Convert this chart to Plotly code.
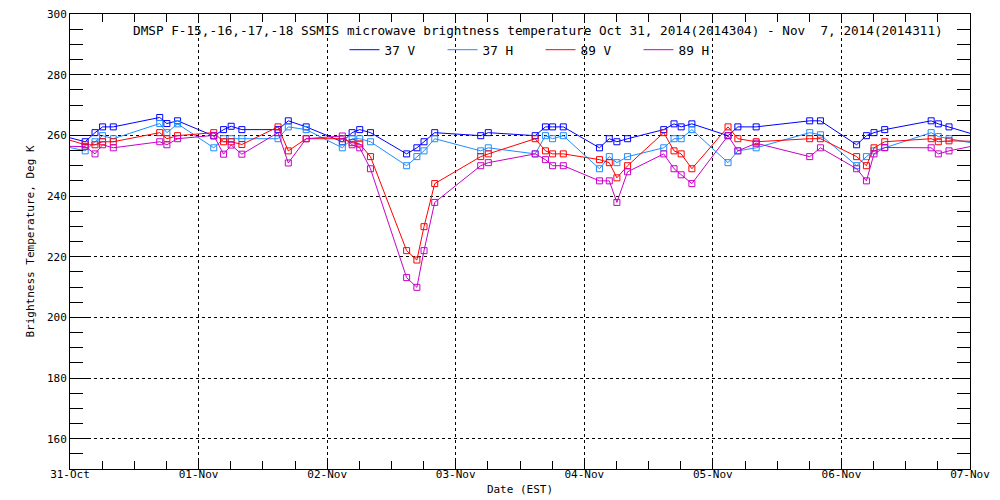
import plotly.graph_objects as go

# pass times (EST) and brightness temperatures
times = [
    "2014-10-30 20:05",
    "2014-10-31 02:50", "2014-10-31 04:40", "2014-10-31 06:05", "2014-10-31 08:05",
    "2014-10-31 16:45", "2014-10-31 18:05", "2014-10-31 20:05",
    "2014-11-01 02:50", "2014-11-01 04:40", "2014-11-01 06:05", "2014-11-01 08:05",
    "2014-11-01 14:50", "2014-11-01 16:45", "2014-11-01 20:05",
    "2014-11-02 02:50", "2014-11-02 04:40", "2014-11-02 06:05", "2014-11-02 08:05",
    "2014-11-02 14:50", "2014-11-02 16:45", "2014-11-02 18:05", "2014-11-02 20:05",
    "2014-11-03 04:40", "2014-11-03 06:05",
    "2014-11-03 14:50", "2014-11-03 16:45", "2014-11-03 18:05", "2014-11-03 20:05",
    "2014-11-04 02:50", "2014-11-04 04:40", "2014-11-04 06:05", "2014-11-04 08:05",
    "2014-11-04 14:50", "2014-11-04 16:45", "2014-11-04 18:05", "2014-11-04 20:05",
    "2014-11-05 02:50", "2014-11-05 04:40", "2014-11-05 08:05",
    "2014-11-05 18:05", "2014-11-05 20:05",
    "2014-11-06 02:50", "2014-11-06 04:40", "2014-11-06 06:05", "2014-11-06 08:05",
    "2014-11-06 16:45", "2014-11-06 18:05", "2014-11-06 20:05",
    "2014-11-07 02:50",
]

tb_37v = [261.0,
          257.9, 260.9, 262.8, 262.8, 265.9, 263.9, 264.8,
          259.8, 261.9, 263.0, 261.9, 261.9, 264.8, 262.8,
          257.9, 260.9, 261.9, 260.9, 253.9, 255.9, 257.9, 260.9,
          259.9, 260.9, 259.9, 262.8, 262.8, 262.8,
          255.9, 258.9, 257.9, 258.9, 261.9, 263.8, 262.8, 263.8,
          259.9, 262.8, 262.8, 264.8, 264.8,
          256.9, 259.9, 260.9, 261.9, 264.8, 263.8, 262.8,
          259.2]

tb_37h = [257.5,
          254.9, 257.9, 259.9, 258.9, 263.9, 260.9, 263.8,
          255.9, 258.9, 258.9, 258.9, 258.9, 262.8, 261.9,
          255.9, 258.9, 258.9, 257.9, 250.0, 253.0, 254.9, 258.9,
          254.9, 255.9, 253.9, 259.9, 258.9, 259.9,
          249.0, 253.0, 251.0, 253.0, 255.9, 258.9, 258.9, 261.9,
          251.0, 254.9, 255.9, 260.9, 260.2,
          250.0, 253.0, 254.9, 255.9, 260.9, 259.6, 258.9,
          256.7]

tb_89v = [260.5,
          256.9, 256.9, 257.9, 257.9, 260.9, 258.9, 259.9,
          260.9, 257.9, 257.9, 257.0, 262.8, 254.9, 258.9,
          258.9, 257.6, 257.2, 253.0, 222.0, 218.9, 229.9, 244.1,
          253.0, 253.9, 258.9, 254.9, 253.9, 253.9,
          252.0, 251.0, 246.0, 250.0, 260.9, 254.9, 253.9, 249.0,
          262.8, 258.9, 257.9, 258.9, 258.9,
          253.0, 250.0, 255.9, 257.9, 258.9, 257.9, 258.2,
          258.0]

tb_89h = [256.5,
          256.3, 253.9, 256.9, 255.9, 257.9, 256.9, 258.9,
          260.0, 253.8, 256.8, 253.8, 260.9, 250.9, 258.9,
          259.8, 256.9, 255.9, 249.0, 213.1, 209.9, 222.0, 237.9,
          250.0, 251.0, 253.9, 252.0, 250.0, 250.0,
          245.0, 245.0, 237.9, 248.0, 253.9, 249.0, 247.0, 244.1,
          259.9, 254.9, 257.4, 253.0, 255.9,
          249.0, 245.0, 253.9, 256.0, 255.9, 253.9, 254.9,
          257.3]

y_ticks = [160, 180, 200, 220, 240, 260, 280, 300]

channels = ["37 V", "37 H", "89 V", "89 H"]
colors = ["#0000ff", "#1e8cff", "#ff0000", "#c800c8"]
series = [tb_37v, tb_37h, tb_89v, tb_89h]

FONT = "DejaVu Sans Mono"
small = dict(family=FONT, size=11, color="black")

fig = go.Figure()

for name, col, vals in zip(channels, colors, series):
    fig.add_trace(go.Scatter(
        x=times, y=vals, mode="lines+markers", showlegend=False,
        line=dict(color=col, width=1),
        marker=dict(symbol="square-open", size=6, color=col, line=dict(width=1)),
    ))
    # legend entry as plain line
    fig.add_trace(go.Scatter(x=[None], y=[None], mode="lines", name=name,
                             line=dict(color=col, width=1)))

axis_common = dict(
    showline=True, linecolor="black", linewidth=1, mirror="allticks",
    ticks="inside", tickcolor="black", showgrid=True,
    gridcolor="black", griddash="dot", gridwidth=1, zeroline=False,
    tickfont=small, ticklabeloverflow="allow",
)

fig.update_xaxes(
    type="date", range=["2014-10-31", "2014-11-07"],
    dtick=86400000, tickformat="%d-%b", ticklen=8, ticklabelstandoff=-5,
    minor=dict(dtick=21600000, ticks="inside", ticklen=8, tickcolor="black", showgrid=False),
    title=dict(text="Date (EST)", font=small, standoff=5),
    automargin=False,
    **axis_common,
)
fig.update_yaxes(
    range=[150, 300.02], tickmode="array", tickvals=y_ticks, ticklen=18,
    minor=dict(dtick=5, ticks="inside", ticklen=13, tickcolor="black", showgrid=False),
    title=dict(text="Brightness Temperature, Deg K", font=small, standoff=10),
    automargin=False,
    **axis_common,
)

fig.add_annotation(
    text="DMSP F-15,-16,-17,-18 SSMIS microwave brightness temperature Oct 31, 2014(2014304) - Nov  7, 2014(2014311)",
    xref="paper", yref="paper", x=0.972, y=0.963, xanchor="right", yanchor="middle",
    showarrow=False, font=dict(family=FONT, size=12.7, color="black"),
)

# the page adds an 8px body margin, so the figure is sized to fit the window
fig.update_layout(
    width=992, height=492,
    margin=dict(l=62, r=30, t=6, b=31),
    paper_bgcolor="white", plot_bgcolor="white",
    legend=dict(orientation="h", x=0.305, y=0.921, xanchor="left", yanchor="middle",
                entrywidth=53, entrywidthmode="pixels", bgcolor="rgba(0,0,0,0)",
                font=dict(family=FONT, size=12.7, color="black"), itemwidth=30),
)

fig.write_html("out.html")
